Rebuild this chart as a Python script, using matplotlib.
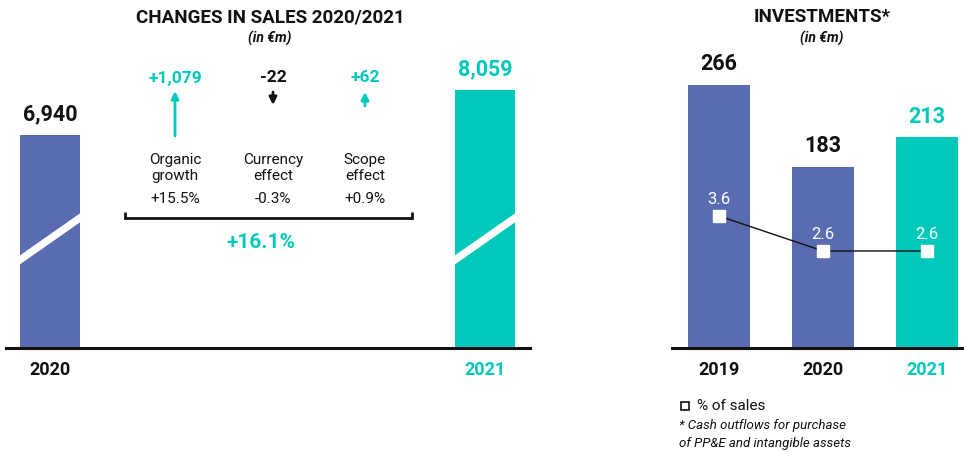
import matplotlib.pyplot as plt
from matplotlib.lines import Line2D

plt.rcParams['font.family'] = ['Roboto', 'DejaVu Sans']

BLUE = '#596cb1'
TEAL = '#00c9bc'
DARK = '#111111'

# changes in sales (in EUR m)
sales_years = ['2020', '2021']
sales_values = [6940, 8059]
sales_labels = ['6,940', '8,059']
effect_names = ['Organic\ngrowth', 'Currency\neffect', 'Scope\neffect']
effect_values = ['+1,079', '-22', '+62']
effect_pcts = ['+15.5%', '-0.3%', '+0.9%']
total_pct = '+16.1%'

# investments (in EUR m) and % of sales
inv_years = ['2019', '2020', '2021']
inv_values = [266, 183, 213]
inv_pct_sales = [3.6, 2.6, 2.6]

W, H = 964, 453
fig = plt.figure(figsize=(W / 100, H / 100), dpi=100)


def fx(px):
    return px / W


def fy(py):
    return 1 - py / H


def clean(ax):
    for s in ['top', 'left', 'right']:
        ax.spines[s].set_visible(False)
    ax.spines['bottom'].set_linewidth(2.2)
    ax.spines['bottom'].set_color(DARK)
    ax.set_xticks([])
    ax.set_yticks([])
    ax.patch.set_alpha(0)


#### left panel: changes in sales
ax1 = fig.add_axes([fx(6), fy(348), (530 - 6) / W, 348 / H])
xs = [0, 7.25]
cols = [BLUE, TEAL]
ax1.bar(xs, sales_values, width=1.0, color=cols, zorder=1)
ax1.set_xlim(-0.733, 8.0)
ax1.set_ylim(1644, 10296)
clean(ax1)

# white diagonal break through the bars (not to scale)
for x in xs:
    ax1.fill_between([x - 0.55, x + 0.55], [3805 - 112, 4953 - 112],
                     [3805 + 112, 4953 + 112], color='white', lw=0, zorder=2)

for x, v, lab, c, yr in zip(xs, sales_values, sales_labels, [DARK, TEAL], sales_years):
    ax1.annotate(lab, (x, v), xytext=(0, 10.5), textcoords='offset points',
                 ha='center', va='baseline', fontsize=15.5, fontweight='bold', color=c)
    ax1.annotate(yr, (x, fy(370)), xycoords=('data', 'figure fraction'),
                 ha='center', va='center', fontsize=13, fontweight='bold', color=c)

# bridge effects in the middle
eff_x = [175, 273, 365]
eff_cols = [TEAL, DARK, TEAL]
arrow_tail = [136, 92, 106]
arrow_tip = [91, 105, 92]
for i in range(3):
    px = eff_x[i]
    fig.text(fx(px), fy(78), effect_values[i], ha='center', va='center',
             fontsize=12.5, fontweight='bold', color=eff_cols[i])
    ax1.annotate('', xy=(fx(px), fy(arrow_tip[i])), xytext=(fx(px), fy(arrow_tail[i])),
                 xycoords='figure fraction',
                 arrowprops=dict(arrowstyle='-|>', color=eff_cols[i], lw=2,
                                 mutation_scale=11, shrinkA=0, shrinkB=0))
    fig.text(fx(px), fy(168), effect_names[i], ha='center', va='center',
             fontsize=11, linespacing=1.1, color=DARK)
    fig.text(fx(px), fy(199), effect_pcts[i], ha='center', va='center',
             fontsize=11, color=DARK)

fig.add_artist(Line2D([fx(125), fx(125), fx(412), fx(412)],
                      [fy(212), fy(218), fy(218), fy(212)],
                      transform=fig.transFigure, color=DARK, lw=2,
                      solid_joinstyle='miter', solid_capstyle='butt'))
fig.text(fx(261), fy(243), total_pct, ha='center', va='center',
         fontsize=15, fontweight='bold', color=TEAL)

fig.text(fx(270), fy(17), 'CHANGES IN SALES 2020/2021', ha='center', va='center',
         fontsize=13.5, fontweight='bold', color=DARK)
fig.text(fx(270), fy(38), '(in €m)', ha='center', va='center',
         fontsize=10, fontweight='bold', style='italic', color=DARK)

#### right panel: investments
ax2 = fig.add_axes([fx(672), fy(348), (964 - 672) / W, 348 / H])
pos = [0, 1, 2]
inv_cols = [BLUE, BLUE, TEAL]
ax2.bar(pos, inv_values, width=0.587, color=inv_cols, zorder=1)
ax2.set_xlim(-0.452, 2.356)
ax2.set_ylim(0, 352)
clean(ax2)

for x, v, c, yr in zip(pos, inv_values, [DARK, DARK, TEAL], inv_years):
    ax2.annotate(str(v), (x, v), xytext=(0, 10.5), textcoords='offset points',
                 ha='center', va='baseline', fontsize=15.5, fontweight='bold', color=c)
    ax2.annotate(yr, (x, fy(370)), xycoords=('data', 'figure fraction'),
                 ha='center', va='center', fontsize=13, fontweight='bold', color=c)

ax3 = ax2.twinx()
ax3.set_ylim(-0.171, 9.77)
ax3.plot(pos, inv_pct_sales, color=DARK, lw=1, marker='s', ms=9,
         mfc='white', mec='white', zorder=3)
for x, v in zip(pos, inv_pct_sales):
    ax3.annotate(f'{v:.1f}', (x, v), xytext=(0, 8.5), textcoords='offset points',
                 ha='center', va='baseline', fontsize=12, color='white')
ax3.axis('off')

fig.text(fx(822), fy(17), 'INVESTMENTS*', ha='center', va='center',
         fontsize=13.5, fontweight='bold', color=DARK)
fig.text(fx(822), fy(38), '(in €m)', ha='center', va='center',
         fontsize=10, fontweight='bold', style='italic', color=DARK)

# legend + footnote
fig.add_artist(Line2D([fx(685)], [fy(406)], transform=fig.transFigure, marker='s',
                      ms=6, mfc='white', mec=DARK, mew=1.2, lw=0))
fig.text(fx(697), fy(406), '% of sales', ha='left', va='center', fontsize=11, color=DARK)
fig.text(fx(679), fy(426), '* Cash outflows for purchase', ha='left', va='center',
         fontsize=9.5, style='italic', color=DARK)
fig.text(fx(679), fy(443), 'of PP&E and intangible assets', ha='left', va='center',
         fontsize=9.5, style='italic', color=DARK)

fig.savefig('out.png', dpi=100)
